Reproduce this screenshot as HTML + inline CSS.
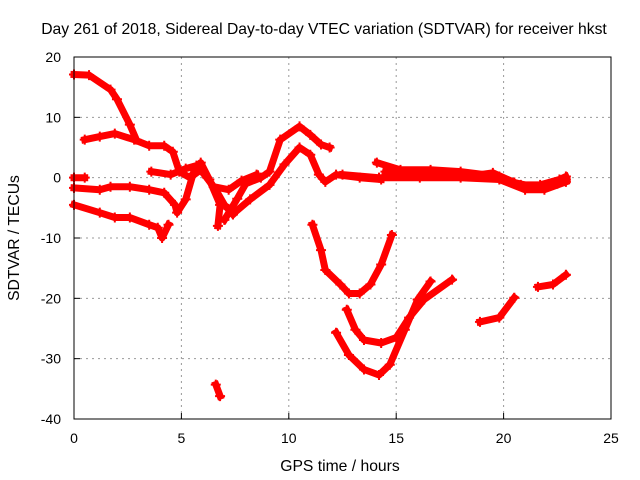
<!DOCTYPE html>
<html><head><meta charset="utf-8"><style>
body{margin:0;background:#fff}
svg{display:block;font-family:"Liberation Sans",Arial,sans-serif}
</style></head><body>
<svg id="chart" width="640" height="480" viewBox="0 0 640 480">
<rect width="640" height="480" fill="#fff"/>
<text x="324" y="34" font-size="15.7" text-anchor="middle">Day 261 of 2018, Sidereal Day-to-day VTEC variation (SDTVAR) for receiver hkst</text>
<text x="340" y="471" font-size="15.7" text-anchor="middle">GPS time / hours</text>
<text transform="translate(19,238) rotate(-90)" font-size="15.7" text-anchor="middle">SDTVAR / TECUs</text>
<g id="grid"></g>
<g id="ticks"></g>
<g id="series"></g>
<rect x="74" y="57" width="537" height="362" fill="none" stroke="#000" stroke-width="1"/>
</svg>
<script>
const xTicks = [0, 5, 10, 15, 20, 25];
const yTicks = [20, 10, 0, -10, -20, -30, -40];
const seriesA = [[0,17.1],[0.7,17],[1.7,14.6],[2,13],[2.6,8.8],[2.9,6.3]];
const seriesB = [[0.5,6.3],[1.2,6.8],[1.9,7.3],[2.8,6.3],[3.5,5.3],[4.2,5.3],[4.6,4.3],[4.9,1],[5.4,0],[5.9,1.3],[6.6,-2],[7,-4.5],[7.4,-6.1]];
const seriesC = [[0,-1.7],[1.2,-2],[1.7,-1.5],[2.6,-1.5],[3.5,-2],[4.2,-2.5],[4.7,-4.5],[4.8,-5.8],[5.2,-3.6],[5.6,1.3],[5.9,2.5],[6.3,-0.3],[6.8,-4.5],[6.7,-8]];
const seriesD = [[0,-4.5],[1.2,-5.8],[1.9,-6.6],[2.6,-6.6],[3.5,-7.8],[3.9,-8.3],[4.1,-10],[4.4,-7.8]];
const seriesE = [[3.6,1],[4.5,0.5],[5.2,1.5],[5.7,2],[6.2,0],[6.5,-1.5],[7.2,-2],[7.8,-0.5],[8.5,0.5]];
const seriesF = [[7,-7],[7.6,-3.5],[8,-1],[8.7,0],[9.1,1],[9.6,6.3],[10.5,8.5],[11,7.1],[11.5,5.5],[11.9,5]];
const seriesG = [[7.4,-6],[8.2,-3.6],[9.1,-1.2],[9.8,2.2],[10.5,5],[11,3.8],[11.4,0.5],[11.7,-0.7],[12.2,0.5],[13.3,0],[14.3,-0.3]];
const seriesH = [[14.1,2.5],[15.2,1.3],[16.6,1.3],[18,1],[19.8,0.2],[20.8,-1.2],[21.7,-1.2],[22.6,-0.3],[22.9,0.2]];
const seriesI = [[12.5,0.5],[14.2,0],[16.1,0],[18,0],[19.8,-0.3],[21,-2],[21.9,-2],[22.9,-0.7]];
const seriesQ = [[14.5,1],[15.5,0.3],[17,0.8],[18.5,0.3],[19.5,0.8],[20.5,-0.8],[21.5,-1.6],[22.5,-1],[22.9,-0.3]];
const seriesJ = [[11.1,-7.8],[11.5,-12],[11.7,-15.3],[12.4,-17.7],[12.8,-19.2],[13.3,-19.2],[13.8,-17.7],[14.3,-14.4],[14.8,-9.5]];
const seriesK = [[12.7,-21.9],[13.1,-25.2],[13.5,-26.9],[14.3,-27.4],[15,-26.5],[15.6,-23.2],[16.3,-20.2],[17.6,-16.9]];
const seriesL = [[12.2,-25.7],[12.8,-29.4],[13.5,-31.8],[14.2,-32.7],[14.7,-31],[15.4,-25.2],[16,-20.2],[16.6,-17.2]];
const seriesM = [[18.9,-23.9],[19.8,-23.2],[20.5,-19.9]];
const seriesN = [[21.6,-18.1],[22.3,-17.7],[22.9,-16.1]];
const seriesO = [[6.6,-34.3],[6.8,-36.2]];
const seriesP = [[0,0],[0.5,0]];
const allSeries = [seriesA,seriesB,seriesC,seriesD,seriesE,seriesF,seriesG,seriesH,seriesI,seriesQ,seriesJ,seriesK,seriesL,seriesM,seriesN,seriesO,seriesP];

const X0=74, X1=611, Y0=419, Y1=57;
const xScale = t => X0 + (t-0)/(25-0)*(X1-X0);
const yScale = v => Y0 - (v+40)/(60)*(Y0-Y1);
const NS="http://www.w3.org/2000/svg";
const grid=document.getElementById('grid'), ticks=document.getElementById('ticks'), ser=document.getElementById('series');
function mk(tag, attrs, parent){const e=document.createElementNS(NS,tag);for(const k in attrs)e.setAttribute(k,attrs[k]);parent.appendChild(e);return e;}
xTicks.forEach(t=>{
  const x=xScale(t);
  if(t>0&&t<25){const g=mk('line',{x1:x,x2:x,y1:Y0,y2:Y1,stroke:'#999','stroke-dasharray':'2,4'},grid);
  
  }
  const tk=mk('line',{x1:x,x2:x,y1:Y0,y2:Y0-6,stroke:'#000'},ticks);
  
  
  const lb=mk('text',{x:x,y:443,'font-size':14,'text-anchor':'middle'},ticks);
  lb.textContent=t;
  
  
});
yTicks.forEach(v=>{
  const y=yScale(v);
  if(v>-40&&v<20){const g=mk('line',{x1:X0,x2:X1,y1:y,y2:y,stroke:'#999','stroke-dasharray':'2,4'},grid);
  
  }
  const tk=mk('line',{x1:X0,x2:X0+6,y1:y,y2:y,stroke:'#000'},ticks);
  
  
  const lb=mk('text',{x:61,y:y+5,'font-size':14,'text-anchor':'end'},ticks);
  lb.textContent=v;
  
  
});
allSeries.forEach((s,i)=>{
  const pts=s.map(p=>xScale(p[0]).toFixed(1)+','+yScale(p[1]).toFixed(1)).join(' ');
  const pl=mk('polyline',{points:pts,fill:'none',stroke:'#ff0000','stroke-width':7,'stroke-linejoin':'round','stroke-linecap':'square'},ser);
  
  
  s.forEach(p=>{
    const x=xScale(p[0]), y=yScale(p[1]);
    const m=mk('path',{d:`M${x-5},${y}H${x+5}M${x},${y-5}V${y+5}`,stroke:'#ff0000','stroke-width':2},ser);
    
    
  });
});
</script>
</body></html>
